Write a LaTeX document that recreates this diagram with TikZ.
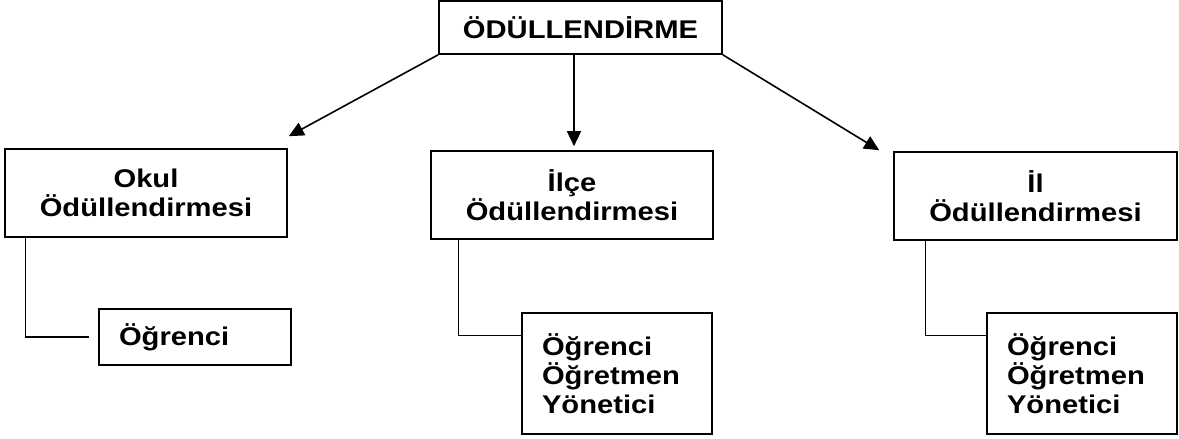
\documentclass[tikz,border=0pt]{standalone}
\usepackage{fontspec}
\setmainfont{Liberation Sans}[FakeStretch=1.14]
\usetikzlibrary{arrows.meta}

\begin{document}
\begin{tikzpicture}[x=1pt, y=-1pt,
    box/.style={draw, line width=1.6pt, align=center, inner sep=0pt,
      font=\bfseries\fontsize{25.6}{29.3}\selectfont},
    listbox/.style={box, align=left, inner xsep=20pt},
    arr/.style={line width=1.6pt, -{Triangle[length=15pt,width=14pt]}},
    link/.style={line width=1.3pt}]
  \useasboundingbox (0,0) rectangle (1179,439);
  % top level
  \node[box, minimum width=283pt, minimum height=53pt] (odul) at (580.5,27.5) {ÖDÜLLENDİRME};
  % second level
  \node[box, minimum width=282pt, minimum height=88pt] (okul) at (146,193) {Okul\\Ödüllendirmesi};
  \node[box, minimum width=282pt, minimum height=88pt] (ilce) at (572,195) {İlçe\\Ödüllendirmesi};
  \node[box, minimum width=283pt, minimum height=88pt] (il) at (1035.5,196) {İl\\Ödüllendirmesi};
  % who gets it
  \node[listbox, text width=152pt, minimum height=56pt] (ogr1) at (195,337) {Öğrenci};
  \node[listbox, text width=150pt, minimum height=121pt] (ogr2) at (617,373.5) {Öğrenci\\Öğretmen\\Yönetici};
  \node[listbox, text width=150pt, minimum height=121pt] (ogr3) at (1082,373.5) {Öğrenci\\Öğretmen\\Yönetici};
  % arrows
  \draw[arr] (odul.south west) -- ([shift={(1pt,12pt)}]okul.north east);
  \draw[arr] ([xshift=-6.5pt]odul.south) -- ([shift={(2pt,4pt)}]ilce.north);
  \draw[arr] (odul.south east) -- ([shift={(-14pt,1pt)}]il.north west);
  % links
  \draw[link] ([xshift=21pt]okul.south west) |- ([xshift=-9pt]ogr1.west);
  \draw[link] ([xshift=28pt]ilce.south west) |- ([yshift=-23pt]ogr2.north west);
  \draw[link] ([xshift=32pt]il.south west) |- ([yshift=-23pt]ogr3.north west);
\end{tikzpicture}
\end{document}
